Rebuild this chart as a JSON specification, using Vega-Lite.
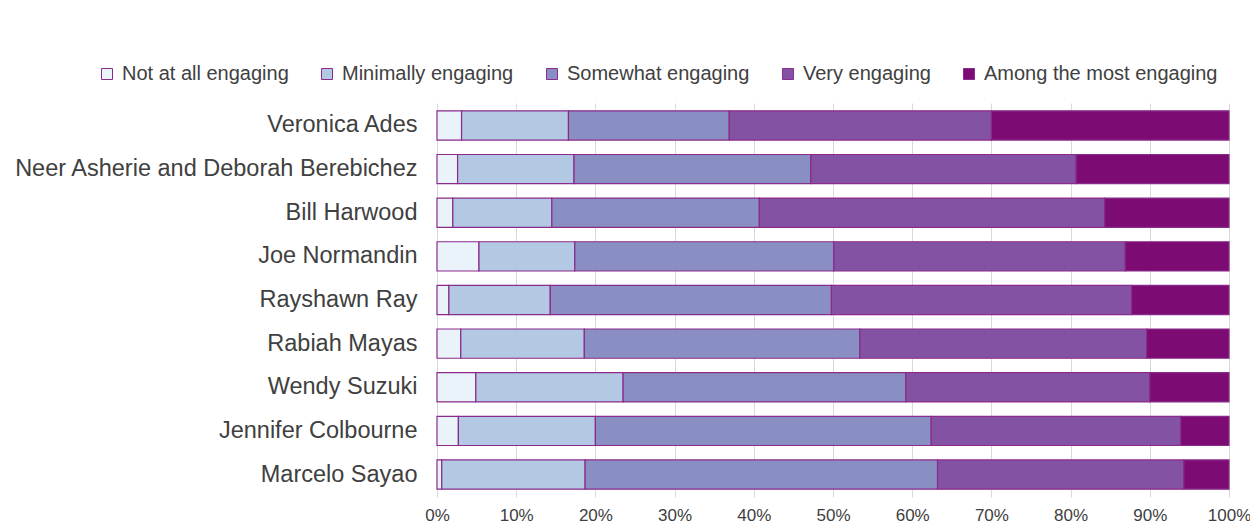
{
  "$schema": "https://vega.github.io/schema/vega-lite/v6.json",
  "width": 792,
  "height": 394,
  "autosize": {"type": "none"},
  "padding": {"left": 437, "top": 103, "right": 21, "bottom": 30},
  "background": "#ffffff",
  "data": {
    "values": [
      {"name": "Veronica Ades", "level": "Not at all engaging", "pct": 3.1},
      {"name": "Veronica Ades", "level": "Minimally engaging", "pct": 13.5},
      {"name": "Veronica Ades", "level": "Somewhat engaging", "pct": 20.3},
      {"name": "Veronica Ades", "level": "Very engaging", "pct": 33.1},
      {"name": "Veronica Ades", "level": "Among the most engaging", "pct": 30.0},
      {"name": "Neer Asherie and Deborah Berebichez", "level": "Not at all engaging", "pct": 2.6},
      {"name": "Neer Asherie and Deborah Berebichez", "level": "Minimally engaging", "pct": 14.7},
      {"name": "Neer Asherie and Deborah Berebichez", "level": "Somewhat engaging", "pct": 29.9},
      {"name": "Neer Asherie and Deborah Berebichez", "level": "Very engaging", "pct": 33.5},
      {"name": "Neer Asherie and Deborah Berebichez", "level": "Among the most engaging", "pct": 19.3},
      {"name": "Bill Harwood", "level": "Not at all engaging", "pct": 2.0},
      {"name": "Bill Harwood", "level": "Minimally engaging", "pct": 12.5},
      {"name": "Bill Harwood", "level": "Somewhat engaging", "pct": 26.2},
      {"name": "Bill Harwood", "level": "Very engaging", "pct": 43.6},
      {"name": "Bill Harwood", "level": "Among the most engaging", "pct": 15.7},
      {"name": "Joe Normandin", "level": "Not at all engaging", "pct": 5.3},
      {"name": "Joe Normandin", "level": "Minimally engaging", "pct": 12.1},
      {"name": "Joe Normandin", "level": "Somewhat engaging", "pct": 32.7},
      {"name": "Joe Normandin", "level": "Very engaging", "pct": 36.8},
      {"name": "Joe Normandin", "level": "Among the most engaging", "pct": 13.1},
      {"name": "Rayshawn Ray", "level": "Not at all engaging", "pct": 1.5},
      {"name": "Rayshawn Ray", "level": "Minimally engaging", "pct": 12.8},
      {"name": "Rayshawn Ray", "level": "Somewhat engaging", "pct": 35.5},
      {"name": "Rayshawn Ray", "level": "Very engaging", "pct": 37.9},
      {"name": "Rayshawn Ray", "level": "Among the most engaging", "pct": 12.3},
      {"name": "Rabiah Mayas", "level": "Not at all engaging", "pct": 3.0},
      {"name": "Rabiah Mayas", "level": "Minimally engaging", "pct": 15.6},
      {"name": "Rabiah Mayas", "level": "Somewhat engaging", "pct": 34.8},
      {"name": "Rabiah Mayas", "level": "Very engaging", "pct": 36.2},
      {"name": "Rabiah Mayas", "level": "Among the most engaging", "pct": 10.4},
      {"name": "Wendy Suzuki", "level": "Not at all engaging", "pct": 4.9},
      {"name": "Wendy Suzuki", "level": "Minimally engaging", "pct": 18.6},
      {"name": "Wendy Suzuki", "level": "Somewhat engaging", "pct": 35.7},
      {"name": "Wendy Suzuki", "level": "Very engaging", "pct": 30.8},
      {"name": "Wendy Suzuki", "level": "Among the most engaging", "pct": 10.0},
      {"name": "Jennifer Colbourne", "level": "Not at all engaging", "pct": 2.7},
      {"name": "Jennifer Colbourne", "level": "Minimally engaging", "pct": 17.3},
      {"name": "Jennifer Colbourne", "level": "Somewhat engaging", "pct": 42.4},
      {"name": "Jennifer Colbourne", "level": "Very engaging", "pct": 31.5},
      {"name": "Jennifer Colbourne", "level": "Among the most engaging", "pct": 6.1},
      {"name": "Marcelo Sayao", "level": "Not at all engaging", "pct": 0.6},
      {"name": "Marcelo Sayao", "level": "Minimally engaging", "pct": 18.1},
      {"name": "Marcelo Sayao", "level": "Somewhat engaging", "pct": 44.5},
      {"name": "Marcelo Sayao", "level": "Very engaging", "pct": 31.1},
      {"name": "Marcelo Sayao", "level": "Among the most engaging", "pct": 5.7}
    ]
  },
  "transform": [
    {"calculate": "indexof(['Not at all engaging', 'Minimally engaging', 'Somewhat engaging', 'Very engaging', 'Among the most engaging'], datum.level)", "as": "levelOrder"}
  ],
  "mark": {"type": "bar", "stroke": "#8a2a8c", "strokeWidth": 1.2},
  "encoding": {
    "y": {
      "field": "name",
      "type": "nominal",
      "sort": null,
      "title": null,
      "scale": {"paddingInner": 0.33, "paddingOuter": 0.18},
      "axis": {
        "domain": false,
        "ticks": false,
        "grid": false,
        "labelFont": "Liberation Sans",
        "labelFontSize": 23.5,
        "labelColor": "#404040",
        "labelPadding": 20,
        "labelLimit": 500
      }
    },
    "x": {
      "field": "pct",
      "type": "quantitative",
      "stack": "normalize",
      "title": null,
      "scale": {"domain": [0, 1], "nice": false},
      "axis": {
        "values": [0, 0.1, 0.2, 0.3, 0.4, 0.5, 0.6, 0.7, 0.8, 0.9, 1],
        "format": ".0%",
        "domain": false,
        "ticks": false,
        "grid": true,
        "gridColor": "#d9d9d9",
        "gridWidth": 1,
        "labelFont": "Liberation Sans",
        "labelFontSize": 17,
        "labelColor": "#404040",
        "labelPadding": 10,
        "labelFlush": false
      }
    },
    "order": {"field": "levelOrder", "type": "quantitative", "sort": "ascending"},
    "color": {
      "field": "level",
      "type": "nominal",
      "sort": ["Not at all engaging", "Minimally engaging", "Somewhat engaging", "Very engaging", "Among the most engaging"],
      "scale": {
        "domain": ["Not at all engaging", "Minimally engaging", "Somewhat engaging", "Very engaging", "Among the most engaging"],
        "range": ["#eaf3fa", "#b3c8e2", "#8a8fc3", "#8452a3", "#7c0c74"]
      },
      "legend": {
        "title": null,
        "orient": "none",
        "direction": "horizontal",
        "legendX": -340,
        "legendY": -39,
        "symbolType": "square",
        "symbolSize": 121,
        "symbolStrokeColor": "#8a2a8c",
        "symbolStrokeWidth": 1,
        "labelFont": "Liberation Sans",
        "labelFontSize": 20,
        "labelColor": "#404040",
        "labelOffset": 5,
        "columnPadding": 28,
        "labelLimit": 400
      }
    }
  },
  "config": {
    "view": {"stroke": null}
  }
}
